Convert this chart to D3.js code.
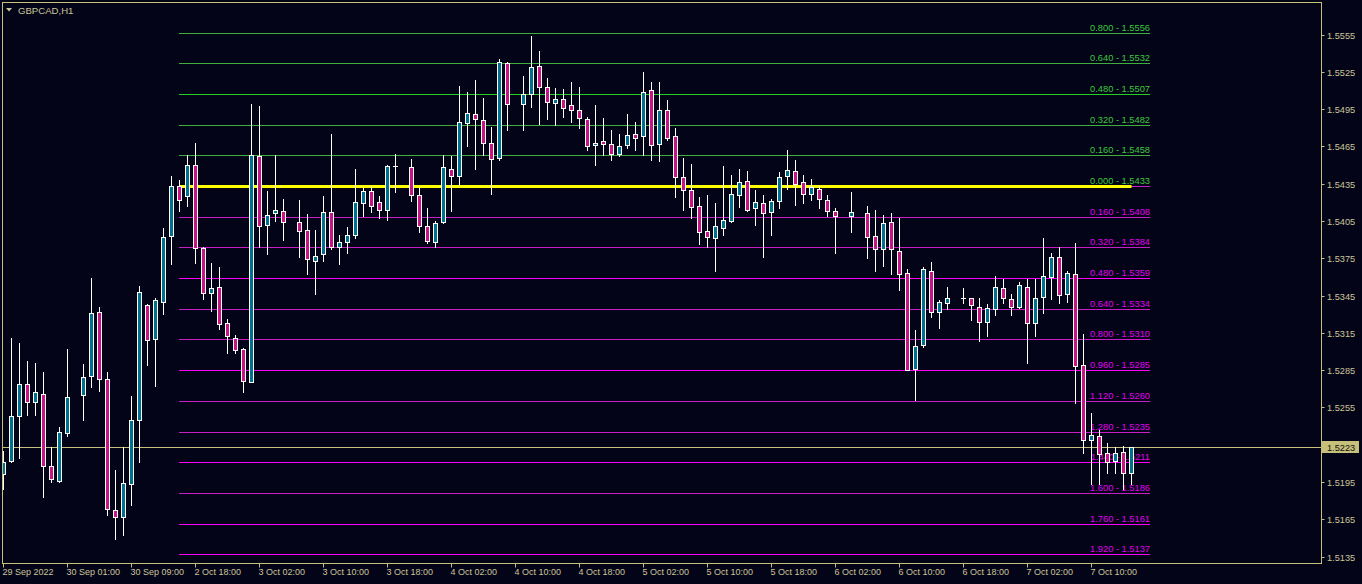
<!DOCTYPE html>
<html><head><meta charset="utf-8">
<script src="https://cdn.jsdelivr.net/npm/d3@7"></script>
<style>html,body{margin:0;padding:0;background:#040418;overflow:hidden}</style>
</head><body><svg id="c" width="1362" height="584"></svg>
<script>
const symbol = "GBPCAD,H1";
// OHLC per H1 bar (null = empty slot)
const openP  = [1.52016,1.52117,1.52482,1.52739,1.52592,1.52659,1.5208,1.51957,1.52343,null,
1.52648,1.52801,1.53318,1.52779,1.51725,1.51666,1.51932,1.5245,1.53375,1.53098,
1.53399,1.53927,1.54332,1.54252,1.54501,1.53834,1.53472,1.5352,1.5323,1.53109,
1.5302,1.52756,1.54574,1.54016,1.54117,1.54133,null,1.54045,1.53973,1.53729,
1.53785,1.54125,1.53842,1.53883,1.53938,1.54195,1.54292,1.54203,1.54141,1.5449,
null,1.54485,1.5426,1.5401,1.53882,1.54043,1.54469,1.54413,1.5484,1.54912,
1.54864,1.54679,1.54558,1.55322,null,1.54992,1.55073,1.55298,1.55129,1.55,
1.55032,1.54984,1.54944,1.54872,1.54663,1.54695,1.54671,1.5459,1.54663,1.54751,
1.54735,1.55105,1.54671,1.54944,1.54735,1.54405,1.543,1.54171,1.5397,1.53914,
1.53997,1.54053,1.5426,1.54373,1.54155,1.54195,1.54123,1.54211,1.54413,1.54453,
1.54364,1.54268,1.54308,1.54219,1.54131,null,1.54091,null,1.54115,1.5393,
1.53826,1.54043,1.5381,1.53633,1.5286,1.53053,1.53649,1.53319,1.53392,null,
1.53429,1.53432,1.5336,1.53239,1.53343,1.53512,1.53424,1.5336,1.5352,1.53231,
1.5344,1.53601,1.53762,1.53464,1.53625,1.52893,1.52289,1.52321,1.52185,1.5212,
1.52193,1.52024];
const highP  = [1.52198,1.53109,1.53069,1.52927,1.52908,1.52836,1.52233,1.52394,1.53023,null,
1.52895,1.53587,1.53361,1.52836,1.52042,1.52233,1.52645,1.53523,1.5338,1.53426,
1.53997,1.54415,1.54383,1.54584,1.54674,1.5384,1.53708,1.53676,1.53262,1.53136,
1.53031,1.54987,1.54971,1.54287,1.54584,1.5423,null,1.54222,1.54102,1.53973,
1.54254,1.54746,1.53933,1.54005,1.54471,1.54316,1.54329,1.54254,1.54497,1.54592,
null,1.54552,1.54324,1.54158,1.54051,1.54582,1.54576,1.55132,1.55084,1.5518,
1.55043,1.54802,1.55354,1.5533,null,1.5522,1.55534,1.55421,1.55204,1.55116,
1.55113,1.55169,1.55129,1.54888,1.54981,1.54877,1.54783,1.54751,1.54912,1.54848,
1.5525,1.55169,1.55169,1.55024,1.54794,1.54558,1.54509,1.54244,1.5426,1.54195,
1.54493,1.54421,1.54469,1.54448,1.54295,1.54255,1.54227,1.54445,1.54617,1.54537,
1.54421,1.54389,1.54332,1.5426,1.54155,null,1.54284,null,1.54171,1.54134,
1.54099,1.54115,1.54075,1.53665,1.53174,1.53681,1.53721,1.53416,1.5352,null,
1.53512,1.53432,1.53432,1.53384,1.53609,1.53585,1.53464,1.5356,1.53585,1.53585,
1.53914,1.53794,1.53842,1.53649,1.53874,1.53142,1.52506,1.52369,1.52265,1.52233,
1.52241,1.52233];
const lowP   = [1.5189,1.5211,1.52139,1.52485,1.52485,1.51825,1.51949,1.51949,1.52316,null,
1.52447,1.52712,1.5268,1.5168,1.51487,1.51519,1.51763,1.52109,1.5289,1.5272,
1.533,1.53702,1.54128,1.54168,1.5371,1.53418,1.53329,1.53184,1.52985,1.52985,
1.52677,1.52756,1.53843,1.5378,1.5405,1.53895,null,1.53758,1.53622,1.53461,
1.53724,1.53823,1.53702,1.5379,1.53914,1.54086,1.5412,1.54072,1.54056,1.5428,
null,1.54209,1.5396,1.53874,1.53844,1.54035,1.54126,1.5434,1.54649,1.54466,
1.54582,1.54265,1.54542,1.5478,null,1.5478,1.54965,1.54829,1.54869,1.5482,
1.54885,1.54845,1.54797,1.54619,1.54498,1.54582,1.54542,1.54574,1.54638,1.54622,
1.54582,1.54542,1.54534,1.54703,1.54244,1.54137,1.54072,1.53866,1.53842,1.53649,
1.53938,1.54039,1.54163,1.54132,1.54016,1.53759,1.53936,1.54153,1.54308,1.54177,
1.54195,1.54217,1.54153,1.54091,1.53794,null,1.53963,null,1.53754,1.53649,
1.5369,1.53625,1.53496,1.52852,1.52608,1.53037,1.53279,1.5319,1.53343,null,
1.53392,1.53252,1.53085,1.53126,1.53295,1.53392,1.53295,1.53352,1.52908,1.53126,
1.53311,1.53424,1.53392,1.534,1.52587,1.52185,1.51935,1.51935,1.52024,1.52024,
1.51895,1.51935];
const closeP = [1.52112,1.52482,1.52739,1.52592,1.52675,1.52077,1.51973,1.52353,1.52635,null,
1.52795,1.5331,1.52779,1.51733,1.51666,1.51943,1.5245,1.5348,1.53093,1.53415,
1.53922,1.54332,1.54217,1.54496,1.53834,1.53472,1.53512,1.53222,1.53125,1.53012,
1.52761,1.5458,1.5401,1.54099,1.54141,1.54045,null,1.53965,1.53745,1.53769,
1.54125,1.53842,1.53883,1.53938,1.54203,1.54292,1.54171,1.54141,1.54493,1.5449,
null,1.5426,1.5401,1.53887,1.54035,1.54485,1.54413,1.54848,1.5492,1.54872,
1.54679,1.5455,1.5533,1.54992,null,1.55073,1.5529,1.55129,1.55008,1.55032,
1.5496,1.54944,1.5488,1.54655,1.54679,1.54671,1.5459,1.54655,1.54743,1.54719,
1.55089,1.54663,1.54944,1.54719,1.54405,1.543,1.54163,1.53962,1.53922,1.5401,
1.54061,1.54268,1.54364,1.5414,1.54203,1.54115,1.54211,1.54405,1.54461,1.54348,
1.54268,1.54324,1.54227,1.54131,1.54091,null,1.54123,null,1.53922,1.53826,
1.54035,1.53826,1.53625,1.52852,1.53045,1.53665,1.53319,1.534,1.53432,null,
1.53429,1.53376,1.53239,1.53352,1.5352,1.53432,1.5336,1.53536,1.53231,1.53432,
1.53609,1.53762,1.53456,1.53633,1.52885,1.52289,1.52329,1.52177,1.52113,1.52185,
1.52024,1.52233];

const timeLabels = ["29 Sep 2022","30 Sep 01:00","30 Sep 09:00","2 Oct 18:00","3 Oct 02:00","3 Oct 10:00",
"3 Oct 18:00","4 Oct 02:00","4 Oct 10:00","4 Oct 18:00","5 Oct 02:00","5 Oct 10:00","5 Oct 18:00",
"6 Oct 02:00","6 Oct 10:00","6 Oct 18:00","7 Oct 02:00","7 Oct 10:00"];
const timeLabelBars = [0,8,16,24,32,40,48,56,64,72,80,88,96,104,112,120,128,136];
const priceTicks = [1.5555,1.5525,1.5495,1.5465,1.5435,1.5405,1.5375,1.5345,1.5315,1.5285,1.5255,1.5225,1.5195,1.5165,1.5135];
const fibRatios = ["0.800","0.640","0.480","0.320","0.160","0.000","0.160","0.320","0.480","0.640","0.800","0.960","1.120","1.280","1.440","1.600","1.760","1.920"];
const fibPrices = [1.5556,1.5532,1.5507,1.5482,1.5458,1.5433,1.5408,1.5384,1.5359,1.5334,1.5310,1.5285,1.5260,1.5235,1.5211,1.5186,1.5161,1.5137];
const fibUpper  = [1,1,1,1,1,1,0,0,0,0,0,0,0,0,0,0,0,0];
const fibBright = [0,0,1,0,0,0,0,0,1,0,0,1,0,0,1,0,1,1];
const fibStartBar = 22;
const basePrice = 1.5433;
const currentPrice = 1.5223;

const BG="#040418", AX="#c7c07a", TXT="#cbc69a", BULL="#00708f", BEAR="#c71585";
const svg = d3.select("#c");
svg.append("rect").attr("width",1362).attr("height",584).attr("fill",BG);

const L=2.5, T=2.5, R=1321.5, B=563.5;
const n = openP.length;
const x = d3.scaleLinear().domain([0, n-1]).range([3.5, 3.5 + 8*(n-1)]);
const y = d3.scaleLinear().domain([1.5135, 1.5555]).range([557, 35]);
const sy = v => Math.floor(y(v)) + 0.5;

svg.append("defs").append("clipPath").attr("id","clip")
  .append("rect").attr("x",L+0.5).attr("y",T+0.5).attr("width",R-L-1).attr("height",B-T-1);
const plot = svg.append("g").attr("clip-path","url(#clip)");

// current price line
plot.append("line").attr("x1",L).attr("x2",R).attr("y1",sy(currentPrice)).attr("y2",sy(currentPrice))
  .attr("stroke",AX).attr("stroke-width",1);

// fib levels
const fx1 = x(fibStartBar) - 0.5, fx2 = 1150;
const fib = fibPrices.map((p,k)=>({p, r:fibRatios[k], up:fibUpper[k], br:fibBright[k]}));
plot.selectAll("line.fib").data(fib).join("line").attr("class","fib")
  .attr("x1",fx1).attr("x2",fx2).attr("y1",d=>sy(d.p)).attr("y2",d=>sy(d.p))
  .attr("stroke",d=> (d.up && d.p>basePrice) ? (d.br?"#22d022":"#3fae3f") : (d.br?"#ff00ff":"#c81ec8"))
  .attr("stroke-width",1);
plot.selectAll("text.fib").data(fib).join("text").attr("class","fib")
  .attr("x",fx2).attr("y",d=>sy(d.p)-2.5).attr("text-anchor","end")
  .attr("font-family","Liberation Sans, Arial, sans-serif").attr("font-size","9.3px")
  .attr("fill",d=>d.up?"#3cc83c":"#e000f0")
  .text(d=>d.r+" - "+d.p.toFixed(4));
// yellow base line
plot.append("line").attr("x1",fx1).attr("x2",x(n-1)).attr("y1",sy(basePrice)).attr("y2",sy(basePrice))
  .attr("stroke","#ffff00").attr("stroke-width",3);

// candles
const bars = d3.range(n).filter(i=>openP[i]!==null).map(i=>({i,o:openP[i],h:highP[i],l:lowP[i],c:closeP[i]}));
const g = plot.append("g");
g.selectAll("line.wick").data(bars).join("line").attr("class","wick")
  .attr("x1",d=>x(d.i)).attr("x2",d=>x(d.i)).attr("y1",d=>Math.floor(y(d.h))).attr("y2",d=>Math.floor(y(d.l))+1)
  .attr("stroke","#ffffff").attr("stroke-width",1);
g.selectAll("rect.body").data(bars.filter(d=>Math.floor(y(d.o))!==Math.floor(y(d.c)))).join("rect").attr("class","body")
  .attr("x",d=>x(d.i)-2).attr("width",4)
  .attr("y",d=>sy(Math.max(d.o,d.c)))
  .attr("height",d=>sy(Math.min(d.o,d.c))-sy(Math.max(d.o,d.c)))
  .attr("fill",d=>d.c>=d.o?BULL:BEAR).attr("stroke","#ffffff").attr("stroke-width",1);
g.selectAll("line.doji").data(bars.filter(d=>Math.floor(y(d.o))===Math.floor(y(d.c)))).join("line").attr("class","doji")
  .attr("x1",d=>x(d.i)-2.5).attr("x2",d=>x(d.i)+2.5).attr("y1",d=>sy(d.o)).attr("y2",d=>sy(d.o))
  .attr("stroke","#ffffff").attr("stroke-width",1);

// frame
svg.append("rect").attr("x",L).attr("y",T).attr("width",R-L).attr("height",B-T)
  .attr("fill","none").attr("stroke",AX).attr("stroke-width",1);

// price axis
const font = "Liberation Sans, Arial, sans-serif";
const pa = svg.append("g");
pa.selectAll("line").data(priceTicks).join("line")
  .attr("x1",R).attr("x2",R+3).attr("y1",d=>sy(d)).attr("y2",d=>sy(d)).attr("stroke",AX);
// labels hidden behind the current-price marker are not drawn
pa.selectAll("text").data(priceTicks.filter(d=>Math.abs(y(d)-y(currentPrice))>10)).join("text")
  .attr("x",1327).attr("y",d=>sy(d)).attr("dy","0.35em")
  .attr("font-family",font).attr("font-size","9.2px").attr("fill",TXT).text(d=>d.toFixed(4));
// current price label
svg.append("rect").attr("x",1322).attr("y",sy(currentPrice)-6.5).attr("width",37).attr("height",12).attr("fill",AX);
svg.append("text").attr("x",1327).attr("y",sy(currentPrice)).attr("dy","0.35em")
  .attr("font-family",font).attr("font-size","9.2px").attr("fill","#101010").text(currentPrice.toFixed(4));

// time axis
const ta = svg.append("g");
const tl = timeLabels.map((t,k)=>({t, b:timeLabelBars[k]}));
ta.selectAll("line").data(tl).join("line")
  .attr("x1",d=>x(d.b)).attr("x2",d=>x(d.b)).attr("y1",B).attr("y2",B+4).attr("stroke",AX);
ta.selectAll("text").data(tl).join("text")
  .attr("x",d=>x(d.b)-1).attr("y",575).attr("font-family",font).attr("font-size","9px")
  .attr("fill",TXT).text(d=>d.t);

// title
svg.append("path").attr("d","M6,8 L12,8 L9,11.5 Z").attr("fill",TXT);
svg.append("text").attr("x",18).attr("y",14).attr("font-family",font).attr("font-size","9.6px")
  .attr("fill",TXT).text(symbol);
</script></body></html>
